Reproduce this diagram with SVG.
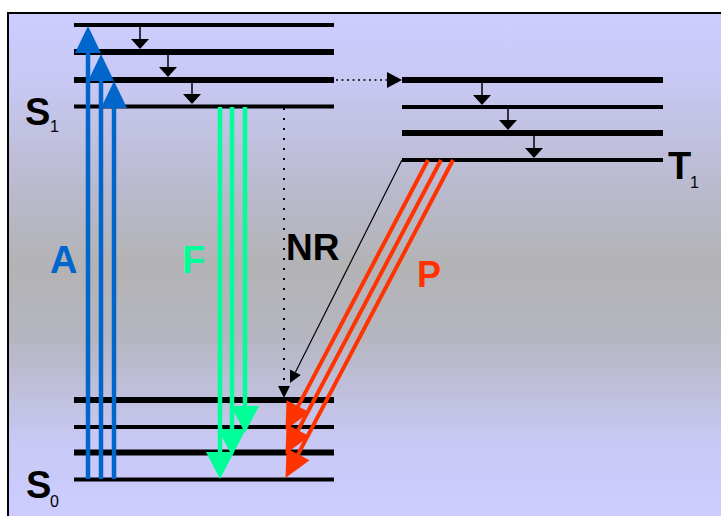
<svg xmlns="http://www.w3.org/2000/svg" width="721" height="516" viewBox="0 0 721 516">
<defs>
<linearGradient id="bg" gradientUnits="userSpaceOnUse" x1="0" y1="13" x2="0" y2="516">
<stop offset="0" stop-color="#ccccff"/>
<stop offset="0.12" stop-color="#c9c9f6"/>
<stop offset="0.36" stop-color="#b9b9cc"/>
<stop offset="0.5" stop-color="#b3b3b5"/>
<stop offset="0.64" stop-color="#b5b5c0"/>
<stop offset="0.86" stop-color="#c9c9f6"/>
<stop offset="1" stop-color="#ccccff"/>
</linearGradient>
<marker id="mA" markerUnits="userSpaceOnUse" viewBox="0 -13 27 26" markerWidth="27" markerHeight="26" refX="1" refY="0" orient="auto" overflow="visible"><path d="M0,-13 L27,0 L0,13 z" fill="#0066cc"/></marker>
<marker id="mF" markerUnits="userSpaceOnUse" viewBox="0 -14 27 28" markerWidth="27" markerHeight="28" refX="1" refY="0" orient="auto" overflow="visible"><path d="M0,-14 L27,0 L0,14 z" fill="#00ff99"/></marker>
<marker id="mP" markerUnits="userSpaceOnUse" viewBox="0 -13 27 26" markerWidth="27" markerHeight="26" refX="1" refY="0" orient="auto" overflow="visible"><path d="M0,-13 L27,0 L0,13 z" fill="#ff3300"/></marker>
<marker id="mS" markerUnits="userSpaceOnUse" viewBox="0 -9 10 18" markerWidth="10" markerHeight="18" refX="0" refY="0" orient="auto" overflow="visible"><path d="M0,-9 L10,0 L0,9 z" fill="#000"/></marker>
<marker id="mNR" markerUnits="userSpaceOnUse" viewBox="0 -6 12 12" markerWidth="12" markerHeight="12" refX="0" refY="0" orient="auto" overflow="visible"><path d="M0,-6 L12,0 L0,6 z" fill="#000"/></marker>
<marker id="mDot" markerUnits="userSpaceOnUse" viewBox="0 -8 15 16" markerWidth="15" markerHeight="16" refX="0" refY="0" orient="auto" overflow="visible"><path d="M0,-8 L15,0 L0,8 z" fill="#000"/></marker>
<style>
.lvl{stroke:#000;stroke-linecap:butt;fill:none}
.thick{stroke-width:6}
.thin{stroke-width:4}
.lbl{font-family:"Liberation Sans",Arial,Helvetica,sans-serif;font-weight:bold}
.sub{font-family:"Liberation Sans",Arial,Helvetica,sans-serif;font-weight:normal;font-size:16px;fill:#000}
.absA{stroke:#0066cc;stroke-width:4.5;fill:none;marker-end:url(#mA)}
.fluF{stroke:#00ff99;stroke-width:4.5;fill:none;marker-end:url(#mF)}
.phoP{stroke:#ff3300;stroke-width:4;fill:none;marker-end:url(#mP)}
.vr{stroke:#000;stroke-width:1.5;fill:none;marker-end:url(#mS)}
</style>
</defs>
<rect x="0" y="0" width="721" height="516" fill="#ffffff"/>
<rect x="8" y="13" width="720" height="510" fill="url(#bg)" stroke="#000" stroke-width="2"/>

<g id="S1">
<line class="lvl thin" x1="74" y1="25" x2="334" y2="25"/>
<line class="lvl thick" x1="74" y1="52" x2="334" y2="52"/>
<line class="lvl thick" x1="74" y1="80" x2="334" y2="80"/>
<line class="lvl thin" x1="74" y1="106.5" x2="334" y2="106.5"/>
<text class="lbl" x="25" y="125" font-size="38" fill="#000">S</text>
<text class="sub" x="50" y="132">1</text>
</g>

<g id="T1">
<line class="lvl thick" x1="402" y1="80" x2="663" y2="80"/>
<line class="lvl thin" x1="402" y1="107" x2="663" y2="107"/>
<line class="lvl thick" x1="402" y1="133" x2="663" y2="133"/>
<line class="lvl thin" x1="402" y1="160" x2="663" y2="160"/>
<text class="lbl" x="668" y="179" font-size="38" fill="#000">T</text>
<text class="sub" x="690" y="188">1</text>
</g>

<g id="S0">
<line class="lvl thick" x1="74" y1="400" x2="334" y2="400"/>
<line class="lvl thin" x1="74" y1="427" x2="334" y2="427"/>
<line class="lvl thick" x1="74" y1="452.5" x2="334" y2="452.5"/>
<line class="lvl thin" x1="74" y1="479.5" x2="334" y2="479.5"/>
<text class="lbl" x="26" y="498" font-size="38" fill="#000">S</text>
<text class="sub" x="50" y="507">0</text>
</g>

<g id="connectors">
<!-- vibrational relaxation S1 -->
<line class="vr" x1="140" y1="25" x2="140" y2="39"/>
<line class="vr" x1="168" y1="52" x2="168" y2="67"/>
<line class="vr" x1="192" y1="80" x2="192" y2="94"/>
<!-- vibrational relaxation T1 -->
<line class="vr" x1="482" y1="80" x2="482" y2="95"/>
<line class="vr" x1="508" y1="107" x2="508" y2="120"/>
<line class="vr" x1="534" y1="133" x2="534" y2="148"/>
<!-- intersystem crossing -->
<line x1="336" y1="80" x2="387" y2="80" stroke="#000" stroke-width="1.5" stroke-dasharray="2 3.5" marker-end="url(#mDot)"/>
<!-- absorption -->
<line class="absA" x1="88" y1="479" x2="88" y2="52"/>
<line class="absA" x1="101" y1="479" x2="101" y2="80"/>
<line class="absA" x1="114" y1="479" x2="114" y2="107"/>
<!-- fluorescence -->
<line class="fluF" x1="220" y1="107" x2="220" y2="453"/>
<line class="fluF" x1="232" y1="107" x2="232" y2="430"/>
<line class="fluF" x1="245" y1="107" x2="245" y2="407"/>
<!-- non-radiative -->
<line x1="284" y1="108" x2="284" y2="386" stroke="#000" stroke-width="2" stroke-dasharray="2 8" marker-end="url(#mNR)"/>
<line x1="402" y1="160" x2="295.4" y2="372.3" stroke="#000" stroke-width="1.2" marker-end="url(#mNR)"/>
<!-- phosphorescence -->
<line class="phoP" x1="428" y1="160" x2="297.6" y2="407.1"/>
<line class="phoP" x1="441" y1="160" x2="297.6" y2="431.1"/>
<line class="phoP" x1="453" y1="160" x2="297.6" y2="455.1"/>
</g>

<g id="labels">
<text class="lbl" x="50" y="273" font-size="38" fill="#0066cc">A</text>
<text class="lbl" x="182" y="273" font-size="38" fill="#00ff99">F</text>
<text class="lbl" x="286" y="260" font-size="37" fill="#000">NR</text>
<text class="lbl" x="417" y="287" font-size="36" fill="#ff3300">P</text>
</g>
</svg>
